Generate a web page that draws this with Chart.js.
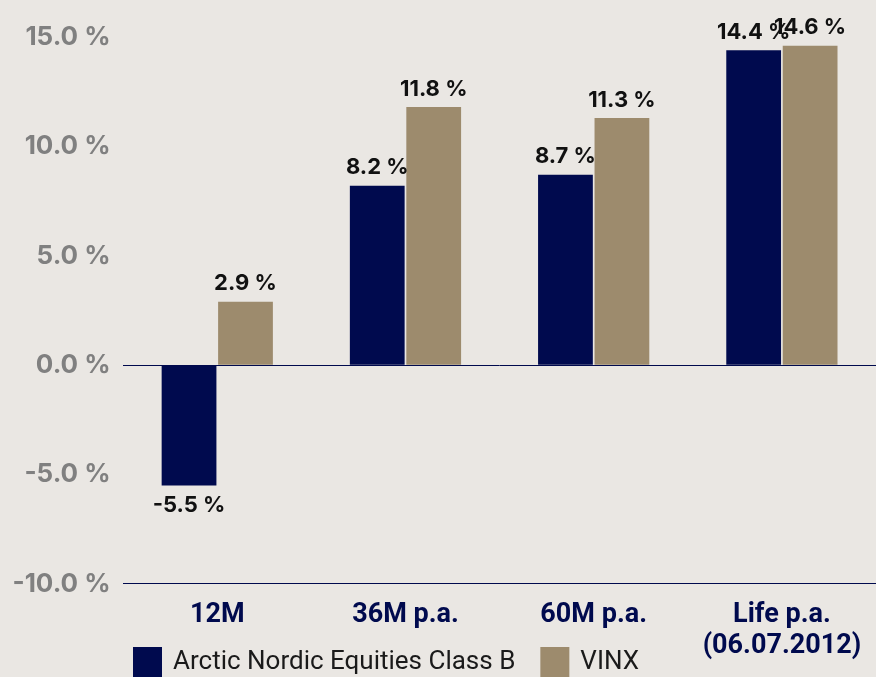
<!DOCTYPE html>
<html>
<head>
<meta charset="utf-8">
<script src="https://cdn.jsdelivr.net/npm/chart.js@4"></script>
<style>
  html, body { margin: 0; padding: 0; background: #eae7e3; overflow: hidden; }
  canvas { display: block; }
</style>
</head>
<body>
<canvas id="chart" width="876" height="677"></canvas>
<script>
// Données du graphique
var categories = ['12M', '36M p.a.', '60M p.a.', ['Life p.a.', '(06.07.2012)']];
var fundLabel = 'Arctic Nordic Equities Class B';
var fundValues = [-5.5, 8.2, 8.7, 14.4];
var indexLabel = 'VINX';
var indexValues = [2.9, 11.8, 11.3, 14.6];
var yTicks = [-10, -5, 0, 5, 10, 15];

var navy = '#000a4e';
var tan = '#9d8b6d';
var narrow = '"Roboto", sans-serif';

// Étiquettes de valeur au-dessus / en dessous des barres
var valueLabels = {
    id: 'valueLabels',
    afterDatasetsDraw: function(chart) {
        var ctx = chart.ctx;
        ctx.save();
        ctx.font = 'bold 22px "Inter", sans-serif';
        ctx.fillStyle = '#111111';
        ctx.textAlign = 'center';
        chart.data.datasets.forEach(function(ds, i) {
            var meta = chart.getDatasetMeta(i);
            meta.data.forEach(function(bar, j) {
                var v = ds.data[j];
                var txt = v.toFixed(1) + ' %';
                if (v >= 0) {
                    ctx.textBaseline = 'bottom';
                    ctx.fillText(txt, bar.x, bar.y - 7);
                } else {
                    ctx.textBaseline = 'top';
                    ctx.fillText(txt, bar.x, bar.y + 9);
                }
            });
        });
        ctx.restore();
    }
};

// Légende dessinée à la main (chevauche la zone des libellés)
var customLegend = {
    id: 'customLegend',
    afterDraw: function(chart) {
        var ctx = chart.ctx;
        ctx.save();
        ctx.font = '26px ' + narrow;
        ctx.textBaseline = 'middle';
        ctx.textAlign = 'left';
        var x = 133;
        var y = 647;
        chart.data.datasets.forEach(function(ds) {
            ctx.fillStyle = ds.backgroundColor;
            ctx.fillRect(x, y, 29, 32);
            ctx.fillStyle = '#1a1a1a';
            ctx.fillText(ds.label, x + 40, y + 15);
            x += 40 + ctx.measureText(ds.label).width + 25;
        });
        ctx.restore();
    }
};

var chart = new Chart(document.getElementById('chart'), {
    type: 'bar',
    data: {
        labels: categories,
        datasets: [{
            label: fundLabel,
            data: fundValues,
            backgroundColor: navy,
            categoryPercentage: 0.6,
            barPercentage: 0.97
        }, {
            label: indexLabel,
            data: indexValues,
            backgroundColor: tan,
            categoryPercentage: 0.6,
            barPercentage: 0.97
        }]
    },
    options: {
        responsive: false,
        animation: false,
        layout: { padding: { top: 37, right: 0, left: 0, bottom: 7 } },
        plugins: {
            legend: { display: false },
            tooltip: { enabled: false }
        },
        scales: {
            x: {
                grid: { display: false },
                border: { display: true, color: navy, width: 1 },
                ticks: {
                    color: navy,
                    font: { family: narrow, size: 27, weight: 'bold', lineHeight: 1.15 },
                    padding: 8,
                    maxRotation: 0
                }
            },
            y: {
                min: -10,
                max: 15,
                afterBuildTicks: function(axis) {
                    axis.ticks = yTicks.map(function(v) { return { value: v }; });
                },
                border: { display: false },
                grid: {
                    drawTicks: false,
                    color: function(c) { return c.tick && c.tick.value === 0 ? navy : 'rgba(0,0,0,0)'; },
                    lineWidth: 1
                },
                ticks: {
                    color: '#808080',
                    padding: 12.5,
                    font: { family: '"Inter", sans-serif', size: 26, weight: 'bold' },
                    callback: function(v) { return v.toFixed(1) + ' %'; }
                }
            }
        }
    },
    plugins: [valueLabels, customLegend]
});
</script>
</body>
</html>
